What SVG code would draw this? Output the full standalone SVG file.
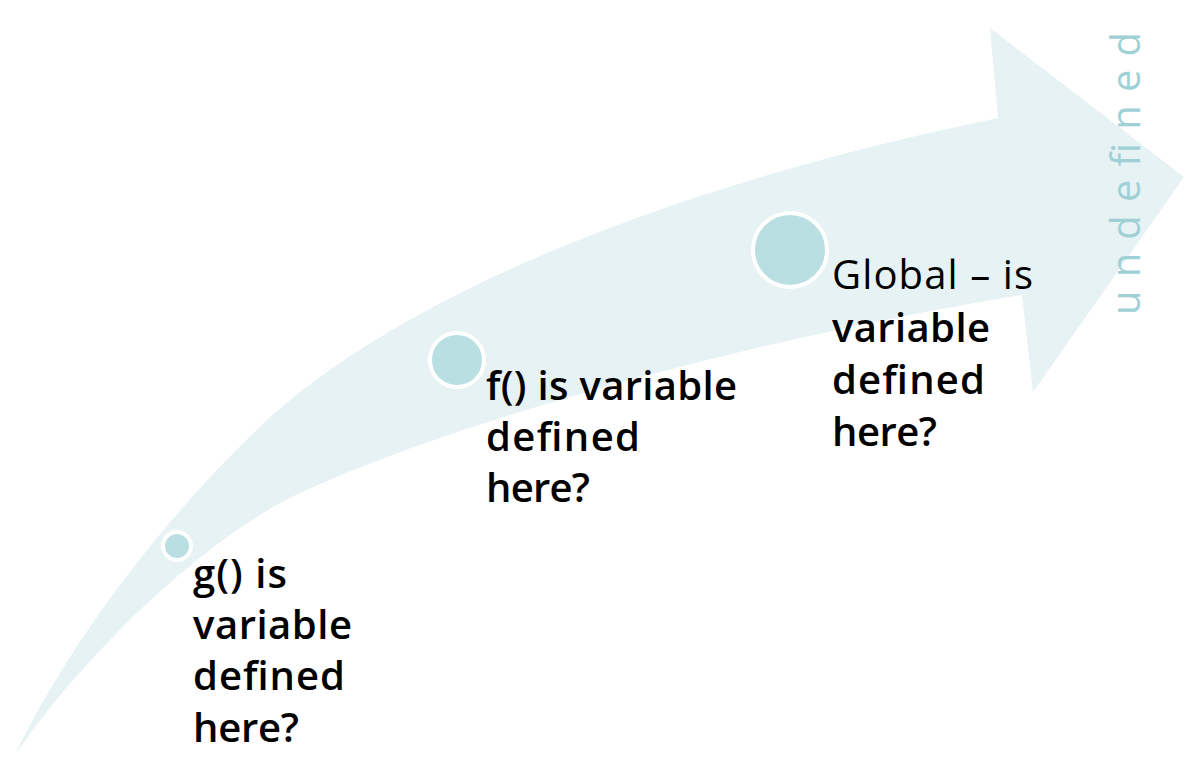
<svg xmlns="http://www.w3.org/2000/svg" width="1184" height="760" viewBox="0 0 1184 760">
<style>
.band{fill:#e6f2f4;}
.dot{fill:#b9dfe2;stroke:#ffffff;stroke-width:4;}
.lbl{font-family:"Open Sans","Noto Sans",sans-serif;font-size:40px;font-weight:600;fill:#000000;}
.lbl .reg{font-weight:400;}
.vert{font-family:"Open Sans","Noto Sans",sans-serif;font-size:40px;font-weight:400;fill:#9fd0d6;}
</style>
<rect width="1184" height="760" fill="#ffffff"/>
<g id="connectors">
<path class="band" d="M15,755 C60,660 150,530 267,420 C400,300 650,190 998,118 L990,28 L1184,177 L1033,392 L1022,295 C800,330 480,410 300,493 C200,540 80,660 15,755 Z"/>
</g>
<text class="vert" transform="translate(1140,315) rotate(-90)" x="0" y="0" textLength="283" lengthAdjust="spacing">undefined</text>
<g id="node-g">
<circle class="dot" cx="177" cy="546" r="14"/>
<text class="lbl"><tspan x="193" y="588" textLength="94">g() is</tspan><tspan x="193" y="639" textLength="159">variable</tspan><tspan x="193" y="690" textLength="152">defined</tspan><tspan x="193" y="742" textLength="106">here?</tspan></text>
</g>
<g id="node-f">
<circle class="dot" cx="457" cy="360" r="27"/>
<text class="lbl"><tspan x="486" y="400" textLength="251">f() is variable</tspan><tspan x="486" y="451" textLength="154">defined</tspan><tspan x="486" y="502" textLength="104">here?</tspan></text>
</g>
<g id="node-global">
<circle class="dot" cx="790" cy="250" r="37"/>
<text class="lbl"><tspan class="reg" x="832" y="289" textLength="201">Global – is</tspan><tspan x="832" y="342" textLength="158">variable</tspan><tspan x="832" y="394" textLength="153">defined</tspan><tspan x="832" y="446" textLength="105">here?</tspan></text>
</g>
</svg>
